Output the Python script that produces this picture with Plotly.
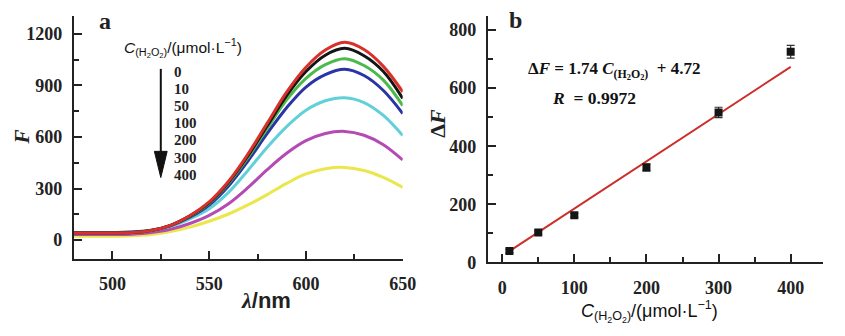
import plotly.graph_objects as go

W, H = 845, 336

# ---------------- data ----------------
wavelength = [480, 490, 500, 510, 520, 530, 540, 550, 560, 570, 580, 590, 600, 610, 620, 630, 640, 650]
conc_labels = ["0", "10", "50", "100", "200", "300", "400"]
F_0 = [42, 42, 42, 44, 56, 86, 142, 222, 342, 500, 680, 860, 1005, 1105, 1150, 1108, 1010, 862]
F_10 = [42, 42, 42, 44, 56, 86, 141, 218, 336, 490, 665, 840, 980, 1075, 1115, 1072, 980, 824]
F_50 = [42, 42, 42, 44, 55, 85, 139, 214, 330, 480, 650, 815, 940, 1020, 1055, 1015, 930, 782]
F_100 = [45, 45, 45, 47, 57, 84, 133, 204, 315, 460, 620, 770, 890, 962, 993, 957, 870, 736]
F_200 = [45, 45, 45, 47, 56, 80, 124, 183, 278, 405, 540, 660, 755, 810, 828, 800, 725, 608]
F_300 = [33, 33, 33, 35, 44, 63, 97, 144, 212, 305, 410, 505, 578, 620, 632, 610, 555, 466]
F_400 = [23, 23, 23, 25, 33, 50, 76, 110, 152, 205, 265, 330, 385, 415, 423, 405, 365, 307]
spectra = [F_0, F_10, F_50, F_100, F_200, F_300, F_400]
spectra_colors = ["#d8302b", "#151515", "#4cba4a", "#2a34a6", "#62d0d8", "#b44ab4", "#ebe64c"]

conc = [10, 50, 100, 200, 300, 400]
dF = [39, 103, 162, 327, 516, 725]
dF_err = [6, 6, 7, 12, 18, 22]
fit_x = [10, 400]
fit_y = [39, 673]

# ---------------- helpers ----------------
def px(x):
    return x / W

def py(y):
    return 1 - y / H

SERIF = "Liberation Serif"
SANS = "Liberation Sans"
INK = "#222222"

fig = go.Figure()

# spectra (draw low ones first so red lies on top)
for vals, col in reversed(list(zip(spectra, spectra_colors))):
    fig.add_trace(go.Scatter(x=wavelength, y=vals, mode="lines",
                             line=dict(color=col, width=3, shape="spline", smoothing=1.0),
                             xaxis="x", yaxis="y", showlegend=False, hoverinfo="skip"))

# calibration
fig.add_trace(go.Scatter(x=fit_x, y=fit_y, mode="lines",
                         line=dict(color="#cc2f2a", width=2),
                         xaxis="x2", yaxis="y2", showlegend=False))
fig.add_trace(go.Scatter(x=conc, y=dF, mode="markers",
                         marker=dict(symbol="square", size=8, color="#151515"),
                         error_y=dict(type="data", array=dF_err, visible=True,
                                      color="#333333", thickness=1.2, width=4),
                         xaxis="x2", yaxis="y2", showlegend=False))

axis_common = dict(showline=True, linecolor=INK, linewidth=2, ticks="inside",
                   tickcolor=INK, tickwidth=2, ticklen=8, showgrid=False, zeroline=False,
                   tickfont=dict(family=SERIF, size=18, color=INK, weight="bold"),
                   mirror=False)

fig.update_layout(
    width=W, height=H, margin=dict(l=0, r=0, t=0, b=0),
    paper_bgcolor="white", plot_bgcolor="white",
    xaxis=dict(domain=[px(75), px(409.5)], range=[480, 650], tick0=500, dtick=50,
               minor=dict(ticks="inside", ticklen=5, tickwidth=2, tickcolor=INK, dtick=25, tick0=500),
               anchor="y", ticklabelstandoff=8, **axis_common),
    yaxis=dict(domain=[py(266.5), py(17)], range=[-107, 1300], tick0=0, dtick=300,
               minor=dict(ticks="inside", ticklen=5, tickwidth=2, tickcolor=INK, dtick=150, tick0=0),
               anchor="x", ticklabelstandoff=6, **axis_common),
    xaxis2=dict(domain=[px(496), px(837)], range=[-20, 445], tick0=0, dtick=100,
                minor=dict(ticks="inside", ticklen=5, tickwidth=2, tickcolor=INK, dtick=50, tick0=0),
                anchor="y2", ticklabelstandoff=8, **axis_common),
    yaxis2=dict(domain=[py(270.5), py(16.5)], range=[0, 848], tick0=0, dtick=200,
                minor=dict(ticks="inside", ticklen=5, tickwidth=2, tickcolor=INK, dtick=100, tick0=0),
                anchor="x2", ticklabelstandoff=6, **axis_common),
)

ann = []
def text(x, y, t, size, family=SERIF, weight="bold", xanchor="center", angle=0, color=INK):
    ann.append(dict(x=px(x), y=py(y), xref="paper", yref="paper", text=t, showarrow=False,
                    xanchor=xanchor, yanchor="middle", textangle=angle,
                    font=dict(family=family, size=size, color=color, weight=weight)))

# panel letters
text(107, 22, "a", 24)
text(524, 21, "b", 24)

# left axis titles
text(22, 141, "<i>F</i>", 21, angle=-90)
text(270, 310, "<i>λ</i><span style='font-family:Liberation Sans'>/nm</span>", 22)

# legend title + concentrations
cunit = "<i>C</i><sub>(H<sub>2</sub>O<sub>2</sub>)</sub>/(μmol·L<sup>−1</sup>)"
text(186, 49, cunit, 15.5, family=SANS, weight="normal", color="#111111")
ys = [74, 91.7, 108.8, 126.3, 144, 162.5, 180]
for lab, yy in zip(conc_labels, ys):
    text(175, yy, lab, 15, xanchor="left")

# right axis titles
text(445, 127, "Δ<i>F</i>", 22, angle=-90)
text(660, 321, cunit, 18, family=SANS, weight="normal", color="#111111")

# equation
text(535, 73, "Δ<i>F</i> = 1.74 <i>C</i><sub>(H<sub>2</sub>O<sub>2</sub>)</sub>  + 4.72", 17, xanchor="left", color="#111111")
text(559, 101, "<i>R</i>  = 0.9972", 17.5, xanchor="left", color="#111111")

fig.update_layout(annotations=ann)

# arrow next to the concentrations
fig.add_shape(type="line", xref="paper", yref="paper",
              x0=px(163.5), x1=px(163.5), y0=py(71), y1=py(160),
              line=dict(color="#111111", width=2))
fig.add_shape(type="path", xref="paper", yref="paper",
              path=f"M {px(157)} {py(156)} L {px(170)} {py(156)} L {px(163.5)} {py(183)} Z",
              fillcolor="#111111", line=dict(color="#111111", width=1))

fig.write_html("out.html")
